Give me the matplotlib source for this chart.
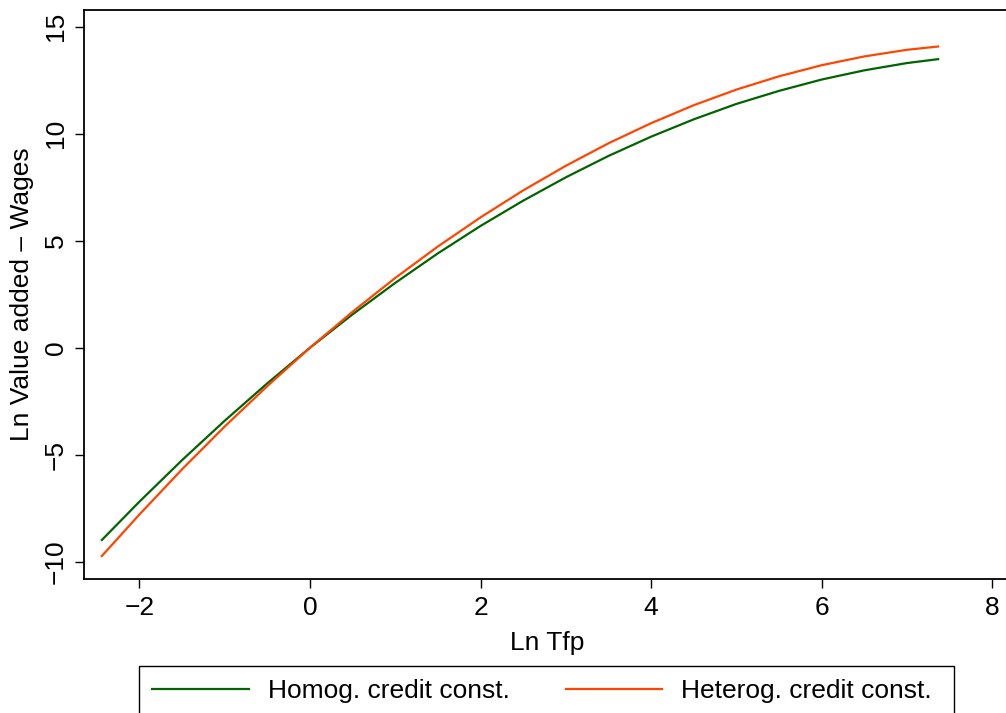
import matplotlib
matplotlib.use("Agg")
import matplotlib.pyplot as plt
from matplotlib.lines import Line2D
from matplotlib.patches import Rectangle

plt.rcParams['font.family'] = ['Liberation Sans', 'DejaVu Sans']

# Data
ln_tfp = [-2.45, -2.0, -1.5, -1.0, -0.5, 0.0, 0.5, 1.0, 1.5, 2.0, 2.5,
          3.0, 3.5, 4.0, 4.5, 5.0, 5.5, 6.0, 6.5, 7.0, 7.38]
homog = [-9.02, -7.19, -5.25, -3.41, -1.66, 0.0, 1.56, 3.03, 4.41, 5.69, 6.87,
         7.96, 8.96, 9.86, 10.67, 11.39, 12.00, 12.53, 12.96, 13.30, 13.49]
heterog = [-9.77, -7.79, -5.68, -3.68, -1.79, 0.0, 1.68, 3.26, 4.73, 6.09, 7.35,
           8.50, 9.55, 10.49, 11.33, 12.06, 12.68, 13.20, 13.61, 13.92, 14.08]
x_ticks = [-2, 0, 2, 4, 6, 8]
y_ticks = [-10, -5, 0, 5, 10, 15]
series_labels = ["Homog. credit const.", "Heterog. credit const."]
colors = ["#006400", "#FF4500"]

W, H = 1006, 713
fig = plt.figure(figsize=(W / 100, H / 100), dpi=100)
left_px, right_px, top_px, bottom_px = 84.3, 1010, 10, 579.3
ax = fig.add_axes([left_px / W, 1 - bottom_px / H,
                   (right_px - left_px) / W, (bottom_px - top_px) / H])

ax.plot(ln_tfp, homog, color=colors[0], lw=1.6, solid_capstyle='butt')
ax.plot(ln_tfp, heterog, color=colors[1], lw=1.6, solid_capstyle='butt')

ax.set_xlim(-2.647, 8.21)
ax.set_ylim(-10.82, 15.78)
ax.set_xticks(x_ticks)
ax.set_yticks(y_ticks)
ax.tick_params(axis='both', direction='out', length=6.7, width=1.0,
               labelsize=19, pad=5.0, color='black')
for lab in ax.get_yticklabels():
    lab.set_rotation(90)
    lab.set_va('center')
for sp in ax.spines.values():
    sp.set_linewidth(1.3)

ax.set_xlabel("Ln Tfp", fontsize=19, labelpad=8)
ax.set_ylabel("Ln Value added \u2013 Wages", fontsize=19, labelpad=7)

# Legend box (drawn separately to match the reference's frame extent)
fig.patches.append(Rectangle((139 / W, 1 - 730 / H), (954 - 139) / W, (730 - 666) / H,
                             transform=fig.transFigure, fill=False,
                             edgecolor='black', lw=1.0))
handles = [Line2D([], [], color=c, lw=1.6) for c in colors]
leg = fig.legend(handles, series_labels, ncol=2, loc='upper left',
                 bbox_to_anchor=(139 / W, 1 - 666 / H), fontsize=19,
                 frameon=False,
                 handlelength=3.65, handletextpad=0.72, columnspacing=2.15,
                 borderpad=0.5, borderaxespad=0)

fig.savefig("out.png", dpi=100)
